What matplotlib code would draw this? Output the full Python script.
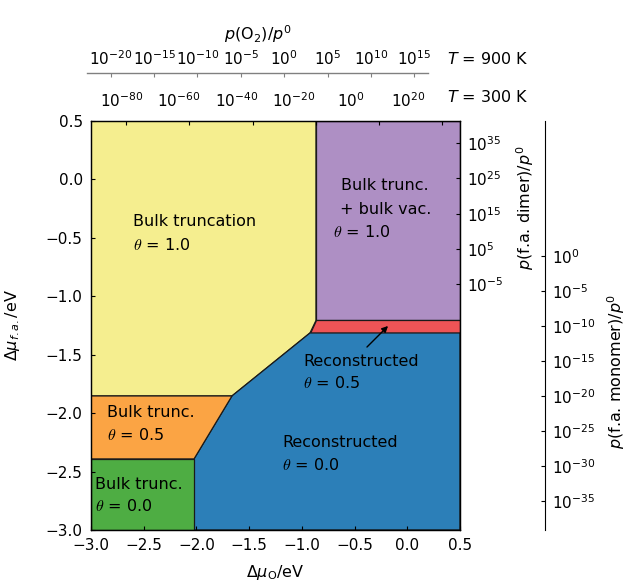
import matplotlib
matplotlib.use("Agg")
import matplotlib.pyplot as plt
from matplotlib.patches import Polygon
from matplotlib.ticker import FixedLocator, LogFormatterMathtext, NullFormatter

plt.rcParams['font.family'] = ['DejaVu Sans']
plt.rcParams['font.size'] = 11
plt.rcParams['mathtext.fontset'] = 'dejavusans'

# ---------------- data ----------------
# phase boundaries (delta mu_O, delta mu_f.a.) in eV
yellow_poly = [(-3.0, 0.5), (-0.866, 0.5), (-0.866, -1.207), (-0.923, -1.314), (-1.663, -1.853), (-3.0, -1.853)]
purple_poly = [(-0.866, 0.5), (0.5, 0.5), (0.5, -1.207), (-0.866, -1.207)]
red_poly = [(-0.866, -1.207), (0.5, -1.207), (0.5, -1.314), (-0.923, -1.314)]
blue_poly = [(-0.923, -1.314), (0.5, -1.314), (0.5, -3.0), (-2.023, -3.0), (-2.023, -2.392), (-1.663, -1.853)]
orange_poly = [(-3.0, -1.853), (-1.663, -1.853), (-2.023, -2.392), (-3.0, -2.392)]
green_poly = [(-3.0, -2.392), (-2.023, -2.392), (-2.023, -3.0), (-3.0, -3.0)]
phase_polys = [yellow_poly, purple_poly, red_poly, blue_poly, orange_poly, green_poly]
phase_colors = ['#F5EE8F', '#AE8FC4', '#EE5456', '#2C7FB8', '#FBA444', '#4EAD43']

x_ticks = [-3.0, -2.5, -2.0, -1.5, -1.0, -0.5, 0.0, 0.5]
y_ticks = [0.5, 0.0, -0.5, -1.0, -1.5, -2.0, -2.5, -3.0]

# secondary pressure axes (log10 p / p0)
t900_ticks = [1e-20, 1e-15, 1e-10, 1e-5, 1e0, 1e5, 1e10, 1e15]
t900_range = (10**-22.73, 10**16.58)
t300_ticks = [1e-80, 1e-60, 1e-40, 1e-20, 1e0, 1e20]
t300_tick_range = (10**-91.06, 10**25.53)
t300_label_range = (10**-92.12, 10**26.99)
dimer_ticks = [1e35, 1e25, 1e15, 1e5, 1e-5]
dimer_range = (10**-74.92, 10**41.34)
monomer_ticks = [1e0, 1e-5, 1e-10, 1e-15, 1e-20, 1e-25, 1e-30, 1e-35]
monomer_range = (10**-39.14, 10**19.29)

# region labels
region_labels = [
    ("Bulk truncation", r"$\theta$ = 1.0"),
    ("Bulk trunc.", "+ bulk vac.", r"$\theta$ = 1.0"),
    ("Bulk trunc.", r"$\theta$ = 0.5"),
    ("Bulk trunc.", r"$\theta$ = 0.0"),
    ("Reconstructed", r"$\theta$ = 0.0"),
    ("Reconstructed", r"$\theta$ = 0.5"),
]
# ---------------- layout ----------------
W, H = 629, 585
fig = plt.figure(figsize=(W / 100, H / 100), dpi=100)


def fx(p):
    return p / W


def fy(p):
    return 1 - p / H


ax = fig.add_axes([fx(91), fy(530), fx(460) - fx(91), fy(121) - fy(530)])
for poly, col in zip(phase_polys, phase_colors):
    ax.add_patch(Polygon(poly, closed=True, facecolor=col, edgecolor='#1a1a1a', lw=0.9))
ax.set_xlim(-3.0, 0.5)
ax.set_ylim(-3.0, 0.5)
ax.set_xticks(x_ticks)
ax.set_yticks(y_ticks)
ax.set_xticklabels([f"{v:.1f}".replace('-', '\u2212') for v in x_ticks])
ax.set_yticklabels([f"{v:.1f}".replace('-', '\u2212') for v in y_ticks])
ax.tick_params(direction='in', length=3, width=0.8, top=False, right=False, pad=6)
ax.set_xlabel(r"$\Delta\mu_{\rm O}$/eV", labelpad=7, fontsize=11.5)
ax.set_ylabel(r"$\Delta\mu_{f.a.}$/eV", labelpad=17, fontsize=11.5)
for s in ax.spines.values():
    s.set_linewidth(0.9)


def px2data(px, py):
    return (-3.0 + (px - 91) / 369 * 3.5, 0.5 - (py - 121) / 409 * 3.5)


label_pos = [
    [(133, 222), (133, 245)],
    [(341, 186), (340, 210), (333, 232)],
    [(107, 413), (107, 435)],
    [(95, 485), (95, 506)],
    [(282, 443), (282, 465)],
    [(303, 362), (303, 383)],
]
for lines, poss in zip(region_labels, label_pos):
    for t, (px, py) in zip(lines, poss):
        x, y = px2data(px, py)
        ax.text(x, y, t, ha='left', va='center', fontsize=11.5, math_fontfamily='cm')

ax.annotate('', xy=px2data(390, 324), xytext=px2data(365, 349),
            arrowprops=dict(arrowstyle='-|>', color='black', lw=1.0, mutation_scale=9))

# T=300 K tick marks on main axes top
ax300 = ax.twiny()
ax300.set_xscale('log')
ax300.set_xlim(*t300_tick_range)
ax300.xaxis.set_major_locator(FixedLocator(t300_ticks))
ax300.xaxis.set_minor_locator(FixedLocator([]))
ax300.xaxis.set_major_formatter(NullFormatter())
ax300.tick_params(axis='x', direction='in', length=3, width=0.8)

# T=300 K labels
axl = fig.add_axes([fx(87), fy(121), fx(428) - fx(87), 0.0001])
axl.set_xscale('log')
axl.set_xlim(*t300_label_range)
axl.xaxis.set_major_locator(FixedLocator(t300_ticks))
axl.xaxis.set_minor_locator(FixedLocator([]))
axl.xaxis.set_major_formatter(LogFormatterMathtext())
axl.tick_params(axis='x', length=0, top=True, labeltop=True, bottom=False, labelbottom=False, pad=8)
axl.set_yticks([])
for s in axl.spines.values():
    s.set_visible(False)
axl.patch.set_visible(False)

# T=900 K axis
ax9 = fig.add_axes([fx(87), fy(72.7), fx(428) - fx(87), 0.0001])
ax9.set_xscale('log')
ax9.set_xlim(*t900_range)
ax9.xaxis.set_major_locator(FixedLocator(t900_ticks))
ax9.xaxis.set_minor_locator(FixedLocator([]))
ax9.xaxis.set_major_formatter(LogFormatterMathtext())
ax9.tick_params(axis='x', direction='in', length=3, width=0.8, color='#808080',
                top=True, labeltop=True, bottom=False, labelbottom=False, pad=3)
ax9.set_yticks([])
for k, s in ax9.spines.items():
    s.set_visible(k == 'top')
ax9.spines['top'].set_color('#808080')
ax9.spines['top'].set_linewidth(1.0)
ax9.patch.set_visible(False)
ax9.xaxis.set_label_position('top')
ax9.set_xlabel(r"$p$(O$_2$)/$p^0$", labelpad=7, fontsize=11.5)

fig.text(fx(447), fy(59.5), r"$T$ = 900 K", ha='left', va='center', fontsize=11.5)
fig.text(fx(447), fy(97.5), r"$T$ = 300 K", ha='left', va='center', fontsize=11.5)

# dimer axis (on right spine)
axd = ax.twinx()
axd.set_yscale('log')
axd.set_ylim(*dimer_range)
axd.yaxis.set_major_locator(FixedLocator(dimer_ticks))
axd.yaxis.set_minor_locator(FixedLocator([]))
axd.yaxis.set_major_formatter(LogFormatterMathtext())
axd.tick_params(axis='y', direction='in', length=3, width=0.8, pad=5)
fig.text(fx(525), fy(208), r"$p$(f.a. dimer)/$p^0$", rotation=90, ha='center', va='center', fontsize=11.5)

# monomer axis
axm = ax.twinx()
axm.set_yscale('log')
axm.set_ylim(*monomer_range)
axm.spines['right'].set_position(('axes', (545 - 91) / 369))
for k in ['top', 'left', 'bottom']:
    axm.spines[k].set_visible(False)
axm.spines['right'].set_linewidth(0.8)
axm.yaxis.set_major_locator(FixedLocator(monomer_ticks))
axm.yaxis.set_minor_locator(FixedLocator([]))
axm.yaxis.set_major_formatter(LogFormatterMathtext())
axm.tick_params(axis='y', direction='in', length=3, width=0.8, pad=5)
fig.text(fx(616), fy(371), r"$p$(f.a. monomer)/$p^0$", rotation=90, ha='center', va='center', fontsize=11.5)

fig.savefig('out.png', dpi=100)
